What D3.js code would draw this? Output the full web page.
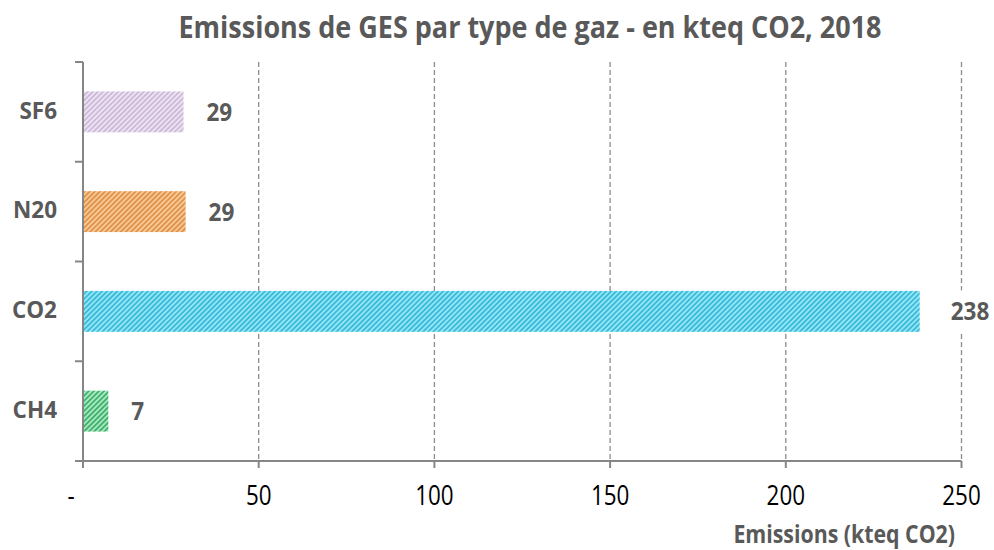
<!DOCTYPE html>
<html><head><meta charset="utf-8">
<script src="https://cdn.jsdelivr.net/npm/d3@7"></script>
<style>body{margin:0;background:#fff}svg{display:block}</style>
</head><body>
<svg id="c" width="994" height="550"></svg>
<script>
const categories = ["SF6", "N20", "CO2", "CH4"];
const values = [28.6, 29.2, 238.1, 7.2];
const valueLabels = ["29", "29", "238", "7"];
const xTicks = [0, 50, 100, 150, 200, 250];
const xTickLabels = ["-", "50", "100", "150", "200", "250"];
const baseColors = ["#ede3f1", "#f6c995", "#93e6f6", "#a6e8c2"];
const stripeColors = ["#cdb9da", "#e0924c", "#3bbad9", "#43b16c"];

(function () {
const svg = d3.select("#c");
const font = "'Open Sans', Lato, sans-serif";
const mLeft = 83, mRight = 961.5, mTop = 62, mBottom = 461;

const x = d3.scaleLinear().domain([0, 250]).range([mLeft, mRight]);
const y = d3.scaleBand().domain(categories).range([mTop, mBottom]).padding(0);
const step = y.step();

// patterns
const defs = svg.append("defs");
const pw = 3.6;
categories.forEach((c, i) => {
  const p = defs.append("pattern").attr("id", "pat" + i)
    .attr("patternUnits", "userSpaceOnUse").attr("width", pw).attr("height", pw)
    .attr("patternTransform", "rotate(45)");
  p.append("rect").attr("width", pw).attr("height", pw).attr("fill", baseColors[i]);
  p.append("rect").attr("width", pw / 2).attr("height", pw).attr("fill", stripeColors[i]);
});

// title
svg.append("text").attr("transform", "translate(530,38.3) scale(0.9,1)").attr("text-anchor", "middle")
  .attr("font-family", font).attr("font-weight", "bold").attr("font-size", 30)
  .attr("fill", "#595959").text("Emissions de GES par type de gaz - en kteq CO2, 2018");

// gridlines
svg.append("g").selectAll("line").data(xTicks.filter(d => d > 0)).join("line")
  .attr("x1", d => x(d)).attr("x2", d => x(d)).attr("y1", mTop).attr("y2", mBottom)
  .attr("stroke", "#8c8c8c").attr("stroke-width", 1.3).attr("stroke-dasharray", "5,3");

// bars
svg.append("g").selectAll("rect").data(categories).join("rect")
  .attr("x", x(0) + 1).attr("y", d => y(d) + step * 0.295)
  .attr("width", (d, i) => x(values[i]) - x(0) - 1).attr("height", step * 0.41)
  .attr("fill", (d, i) => "url(#pat" + i + ")");

// value labels with white background
const lg = svg.append("g").selectAll("g").data(categories).join("g")
  .attr("transform", (d, i) => `translate(${x(values[i]) + (values[i] > 200 ? 31 : 23)},${y(d) + step / 2})`);
lg.append("rect").attr("x", -4).attr("y", -21).attr("width", (d, i) => valueLabels[i].length * 13.5 + 8)
  .attr("height", 42).attr("fill", "#fff");
lg.append("text").attr("transform", "translate(0,9) scale(0.9,1)").attr("font-family", font).attr("font-weight", "bold")
  .attr("font-size", 25).attr("fill", "#595959").text((d, i) => valueLabels[i]);

// axes
const axisColor = "#868686";
svg.append("line").attr("x1", mLeft).attr("x2", mLeft).attr("y1", mTop).attr("y2", mBottom)
  .attr("stroke", axisColor).attr("stroke-width", 2);
svg.append("line").attr("x1", mLeft - 8).attr("x2", mRight).attr("y1", mBottom).attr("y2", mBottom)
  .attr("stroke", axisColor).attr("stroke-width", 2);
const bounds = categories.map(c => y(c)).concat([mBottom]);
svg.append("g").selectAll("line").data(bounds).join("line")
  .attr("x1", mLeft - 8).attr("x2", mLeft).attr("y1", d => d).attr("y2", d => d)
  .attr("stroke", axisColor).attr("stroke-width", 2);
svg.append("g").selectAll("line").data(xTicks).join("line")
  .attr("x1", d => x(d)).attr("x2", d => x(d)).attr("y1", mBottom).attr("y2", mBottom + 7)
  .attr("stroke", axisColor).attr("stroke-width", 2);

// category labels
svg.append("g").selectAll("text").data(categories).join("text")
  .attr("transform", d => `translate(57,${y(d) + step / 2 + 6.8})`).attr("text-anchor", "end")
  .attr("font-family", font).attr("font-weight", "bold").attr("font-size", 22.5)
  .attr("fill", "#595959").text(d => d);

// x tick labels
svg.append("g").selectAll("text").data(xTicks).join("text")
  .attr("transform", (d, i) => `translate(${i === 0 ? x(d) - 12 : x(d)},505) scale(0.8,1)`).attr("text-anchor", "middle")
  .attr("font-family", font).attr("font-size", 28).attr("fill", "#000")
  .text((d, i) => xTickLabels[i]);

// axis title
svg.append("text").attr("transform", "translate(955,543) scale(0.87,1)").attr("text-anchor", "end")
  .attr("font-family", font).attr("font-weight", "bold").attr("font-size", 24.5)
  .attr("fill", "#595959").text("Emissions (kteq CO2)");
})();
</script>
</body></html>
